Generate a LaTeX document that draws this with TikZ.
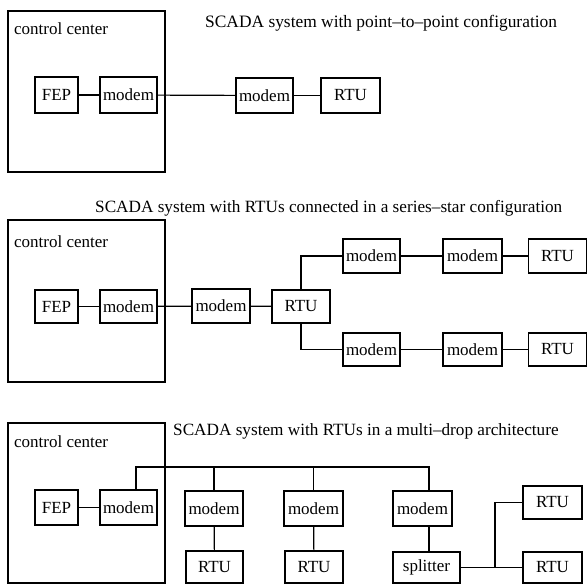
\documentclass[tikz,border=0pt]{standalone}
\usepackage{fontspec}
\setmainfont{Liberation Serif}
\begin{document}
\begin{tikzpicture}[x=1pt,y=-1pt,
  box/.style={draw,line width=1.4pt,rectangle,inner sep=0pt,font=\fontsize{17}{20}\selectfont},
  ccbox/.style={draw,line width=1.4pt,rectangle,inner sep=0pt},
  lbl/.style={anchor=base west,inner sep=0pt,font=\fontsize{17}{20}\selectfont},
  ttl/.style={anchor=base west,inner sep=0pt,font=\fontsize{17.4}{20}\selectfont},
  ttlb/.style={anchor=base west,inner sep=0pt,font=\fontsize{17.2}{20}\selectfont},
  wire/.style={line width=1.2pt}]
\useasboundingbox (0,0) rectangle (588,585);
% ---------- panel 1 ----------
\node[ccbox,minimum width=157pt,minimum height=161pt] (cc1) at (86.5,91.5) {};
\node[lbl] (cl1) at (14,35) {control center};
\node[ttl] (t1) at (205,28) {SCADA system with point--to--point configuration};
\node[box,minimum width=43pt,minimum height=36pt] (fep1) at (56.5,95) {FEP};
\node[box,minimum width=57pt,minimum height=36pt] (m1a) at (128.5,95) {modem};
\node[box,minimum width=57pt,minimum height=35pt] (m1b) at (264.5,95.5) {modem};
\node[box,minimum width=59pt,minimum height=35pt] (r1) at (350.5,95.5) {RTU};
\draw[wire] (fep1) -- (m1a);
\draw[wire] (m1a) -- (m1b);
\draw[wire] (m1b) -- (r1);
% ---------- panel 2 ----------
\node[ccbox,minimum width=157pt,minimum height=162pt] (cc2) at (86.5,301) {};
\node[lbl] (cl2) at (14,247) {control center};
\node[ttlb] (t2) at (95,213) {SCADA system with RTUs connected in a series--star configuration};
\node[box,minimum width=43pt,minimum height=33pt] (fep2) at (56.5,306.5) {FEP};
\node[box,minimum width=57pt,minimum height=33pt] (m2a) at (128.5,306.5) {modem};
\node[box,minimum width=58pt,minimum height=34pt] (m2b) at (221,306) {modem};
\node[box,minimum width=58pt,minimum height=33pt] (r2) at (301,306.5) {RTU};
\node[box,minimum width=57pt,minimum height=34pt] (m2c) at (371.5,256) {modem};
\node[box,minimum width=59pt,minimum height=34pt] (m2d) at (472.5,256) {modem};
\node[box,minimum width=58pt,minimum height=34pt] (r2u) at (557.5,256) {RTU};
\node[box,minimum width=57pt,minimum height=33pt] (m2e) at (371.5,349.5) {modem};
\node[box,minimum width=59pt,minimum height=33pt] (m2f) at (472.5,349.5) {modem};
\node[box,minimum width=58pt,minimum height=33pt] (r2l) at (557.5,349.5) {RTU};
\draw[wire] (fep2) -- (m2a);
\draw[wire] (m2a) -- (m2b);
\draw[wire] (m2b) -- (r2);
\draw[wire] (r2.north) |- (m2c.west);
\draw[wire] (r2.south) |- (m2e.west);
\draw[wire] (m2c) -- (m2d);
\draw[wire] (m2d) -- (r2u);
\draw[wire] (m2e) -- (m2f);
\draw[wire] (m2f) -- (r2l);
% ---------- panel 3 ----------
\node[ccbox,minimum width=157pt,minimum height=160pt] (cc3) at (86.5,503) {};
\node[lbl] (cl3) at (14,447) {control center};
\node[ttlb] (t3) at (173,435) {SCADA system with RTUs in a multi--drop architecture};
\node[box,minimum width=43pt,minimum height=35pt] (fep3) at (56.5,507.5) {FEP};
\node[box,minimum width=57pt,minimum height=35pt] (m3a) at (128.5,507.5) {modem};
\node[box,minimum width=58pt,minimum height=35pt] (m3b) at (214,508.5) {modem};
\node[box,minimum width=59pt,minimum height=35pt] (m3c) at (313.5,508.5) {modem};
\node[box,minimum width=59pt,minimum height=35pt] (m3d) at (422.5,508.5) {modem};
\node[box,minimum width=57pt,minimum height=32pt] (r3a) at (214.5,567) {RTU};
\node[box,minimum width=58pt,minimum height=32pt] (r3b) at (314,567) {RTU};
\node[box,minimum width=67pt,minimum height=31pt] (spl) at (426.5,567.5) {splitter};
\node[box,minimum width=59pt,minimum height=33pt] (r3u) at (552.5,502.5) {RTU};
\node[box,minimum width=59pt,minimum height=31pt] (r3l) at (552.5,567.5) {RTU};
\coordinate (busL) at (136,467);
\coordinate (busR) at (429,467);
\coordinate (jn) at (495,567.5);
\draw[wire] (fep3) -- (m3a);
\draw[wire] (m3a.north -| busL) -- (busL) -- (busR) -- (m3d.north -| busR);
\draw[wire] (m3b.north) -- (m3b.north |- busL);
\draw[wire] (m3c.north) -- (m3c.north |- busL);
\draw[wire] (m3b) -- (r3a);
\draw[wire] (m3c) -- (r3b);
\draw[wire] (m3d.south -| busR) -- (spl.north -| busR);
\draw[wire] (spl) -- (r3l);
\draw[wire] (jn) |- (r3u.west);
\end{tikzpicture}
\end{document}
